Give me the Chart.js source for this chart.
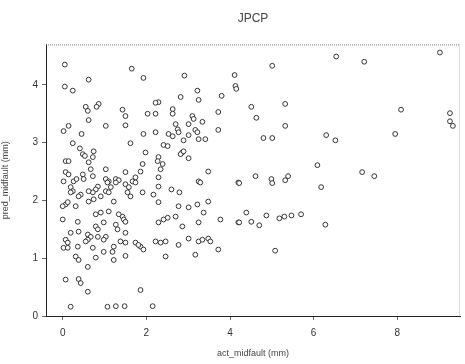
<!DOCTYPE html>
<html>
<head>
<meta charset="utf-8">
<script src="https://cdn.jsdelivr.net/npm/chart.js@4/dist/chart.umd.min.js"></script>
<style>
html,body{margin:0;padding:0;background:#fff;}
#wrap{width:465px;height:364px;}
</style>
</head>
<body>
<div id="wrap"><canvas id="c" width="465" height="364"></canvas></div>
<script>
const chartTitle = "JPCP";
const xTitle = "act_midfault (mm)";
const yTitle = "pred_midfault (mm)";
const xTickValues = [0, 2, 4, 6, 8];
const yTickValues = [0, 1, 2, 3, 4];

const actMidfault = [
0.05,1.65,0.62,1.93,2.91,4.11,0.05,0.24,4.13,4.15,3.22,2.82,3.25,3.80,0.86,0.81,0.55,0.60,2.29,2.22,
2.63,2.63,1.43,1.50,2.03,2.22,0.62,3.10,3.13,3.34,3.72,0.14,0.02,1.03,1.50,0.45,2.70,2.75,3.01,3.17,
3.22,2.53,2.63,2.77,3.72,1.93,2.22,3.01,2.89,3.25,3.41,0.24,1.62,0.41,0.48,0.53,0.74,2.41,2.51,2.86,
2.82,2.89,3.01,1.98,2.29,2.27,2.39,2.34,0.72,0.62,0.67,0.07,0.14,1.91,1.86,1.03,0.07,0.14,0.48,0.50,
0.72,1.50,1.74,1.67,2.29,3.48,3.25,4.20,0.02,0.26,0.33,1.03,1.10,1.27,1.34,0.84,0.79,0.72,0.62,1.07,
1.15,1.03,1.10,1.27,1.50,1.58,1.55,1.74,0.19,0.24,0.19,0.43,0.38,0.91,1.22,1.62,1.91,2.29,2.17,2.60,
2.79,3.29,0.07,0.00,0.12,0.31,0.62,0.74,2.29,2.77,3.01,3.22,3.48,3.37,0.91,0.79,1.10,1.43,1.46,1.34,
1.50,0.98,0.00,0.36,2.29,2.51,2.41,2.70,2.86,3.25,3.77,4.20,1.27,1.31,0.79,0.84,0.38,0.19,0.60,0.67,
0.84,1.03,1.50,0.98,0.60,0.55,0.07,0.12,1.38,1.50,1.74,1.86,1.93,1.81,2.22,2.34,2.46,2.77,3.01,3.25,
3.34,3.48,3.53,3.72,0.02,0.12,0.36,0.72,0.98,1.22,1.19,1.22,1.50,0.31,0.38,0.79,2.46,3.17,0.60,0.07,
0.38,0.43,0.60,1.86,0.19,1.07,1.27,1.48,2.15,5.01,6.54,7.21,9.02,4.51,5.32,4.63,5.32,4.80,5.01,6.30,
6.52,8.09,9.26,9.26,9.33,7.95,6.09,7.16,7.45,4.22,4.61,4.99,5.01,5.32,5.39,6.18,4.39,4.51,4.22,4.87,
4.70,5.18,5.30,5.47,5.70,6.28,5.08
];
const predMidfault = [
4.35,4.28,4.09,4.12,4.16,4.17,3.97,3.90,3.98,3.93,3.90,3.79,3.74,3.81,3.67,3.62,3.62,3.55,3.70,3.69,
3.58,3.50,3.57,3.46,3.50,3.50,3.39,3.46,3.41,3.36,3.53,3.29,3.20,3.29,3.30,3.15,3.32,3.23,3.32,3.22,
3.18,3.15,3.11,3.18,3.22,3.15,3.18,3.13,3.04,3.06,3.06,2.99,2.99,2.90,2.80,2.77,2.85,2.96,2.94,2.83,
2.80,2.85,2.73,2.83,2.75,2.68,2.63,2.54,2.75,2.66,2.54,2.68,2.68,2.63,2.50,2.54,2.49,2.45,2.45,2.37,
2.42,2.49,2.40,2.33,2.40,2.50,2.33,2.31,2.33,2.33,2.37,2.37,2.33,2.37,2.35,2.24,2.19,2.14,2.16,2.31,
2.23,2.16,2.14,2.31,2.28,2.23,2.14,2.31,2.23,2.16,2.14,2.10,2.07,2.07,1.98,2.07,2.14,2.24,2.10,2.19,
2.14,2.31,1.93,1.90,1.97,1.90,1.98,2.02,1.97,1.90,1.88,1.93,1.98,1.79,1.79,1.76,1.81,1.72,1.67,1.76,
1.63,1.62,1.67,1.63,1.62,1.70,1.67,1.72,1.55,1.62,1.67,1.62,1.58,1.50,1.55,1.50,1.46,1.44,1.41,1.37,
1.37,1.37,1.44,1.32,1.32,1.29,1.32,1.27,1.29,1.27,1.27,1.20,1.15,1.23,1.29,1.27,1.29,1.23,1.34,1.29,
1.32,1.34,1.29,1.15,1.18,1.18,1.20,1.18,1.11,1.20,1.11,0.97,1.04,1.03,0.97,1.01,1.03,1.06,0.85,0.63,
0.64,0.57,0.42,0.45,0.16,0.16,0.17,0.17,0.17,4.33,4.49,4.40,4.56,3.62,3.67,3.43,3.29,3.08,3.08,3.13,
3.04,3.57,3.51,3.37,3.29,3.15,2.61,2.49,2.42,2.30,2.42,2.37,2.30,2.35,2.42,2.23,1.79,1.63,1.62,1.74,
1.57,1.69,1.72,1.74,1.76,1.58,1.13
];

const points = actMidfault.map((x, i) => ({x: x, y: predMidfault[i]}));

const frame = {
  id: 'frame',
  afterDraw(chart) {
    const a = chart.chartArea, ctx = chart.ctx;
    ctx.save();
    ctx.strokeStyle = '#777';
    ctx.lineWidth = 1;
    ctx.setLineDash([1, 1]);
    ctx.beginPath();
    ctx.moveTo(a.left, a.top + 0.5);
    ctx.lineTo(a.right, a.top + 0.5);
    ctx.stroke();
    ctx.strokeStyle = '#bbb';
    ctx.beginPath();
    ctx.moveTo(a.right - 0.5, a.top);
    ctx.lineTo(a.right - 0.5, a.bottom);
    ctx.stroke();
    ctx.restore();
  }
};

new Chart(document.getElementById('c'), {
  type: 'scatter',
  data: {
    datasets: [{
      data: points,
      pointStyle: 'circle',
      pointRadius: 2.4,
      pointBorderWidth: 1,
      pointBorderColor: '#333',
      pointBackgroundColor: '#fff'
    }]
  },
  options: {
    responsive: false,
    animation: false,
    layout: {padding: {left: 0, right: 5, top: 0, bottom: 5}},
    plugins: {
      legend: {display: false},
      tooltip: {enabled: false},
      title: {
        display: true,
        fullSize: false,
        text: chartTitle,
        color: '#444',
        font: {family: 'Liberation Sans', size: 12, weight: 'normal'},
        padding: {top: 11, bottom: 19}
      }
    },
    scales: {
      x: {
        type: 'linear',
        min: -0.4,
        max: 9.5,
        afterBuildTicks: s => { s.ticks = xTickValues.map(v => ({value: v})); },
        afterFit: s => { s.height = 43; },
        grid: {display: true, drawOnChartArea: false, drawTicks: true, tickLength: 4, color: '#666'},
        border: {display: true, color: '#222', width: 1},
        ticks: {color: '#333', padding: 7, font: {family: 'Liberation Sans', size: 10}},
        title: {display: true, text: xTitle, color: '#444', padding: {top: 2, bottom: 0},
                font: {family: 'Liberation Sans', size: 9}}
      },
      y: {
        type: 'linear',
        min: 0,
        max: 4.7,
        afterBuildTicks: s => { s.ticks = yTickValues.map(v => ({value: v})); },
        afterFit: s => { s.width = 46; },
        grid: {display: true, drawOnChartArea: false, drawTicks: true, tickLength: 4, color: '#666'},
        border: {display: true, color: '#222', width: 1},
        ticks: {color: '#333', padding: 4, font: {family: 'Liberation Sans', size: 10}},
        title: {display: true, text: yTitle, color: '#444', padding: {top: 0, bottom: 6},
                font: {family: 'Liberation Sans', size: 9}}
      }
    }
  },
  plugins: [frame]
});
</script>
</body>
</html>
